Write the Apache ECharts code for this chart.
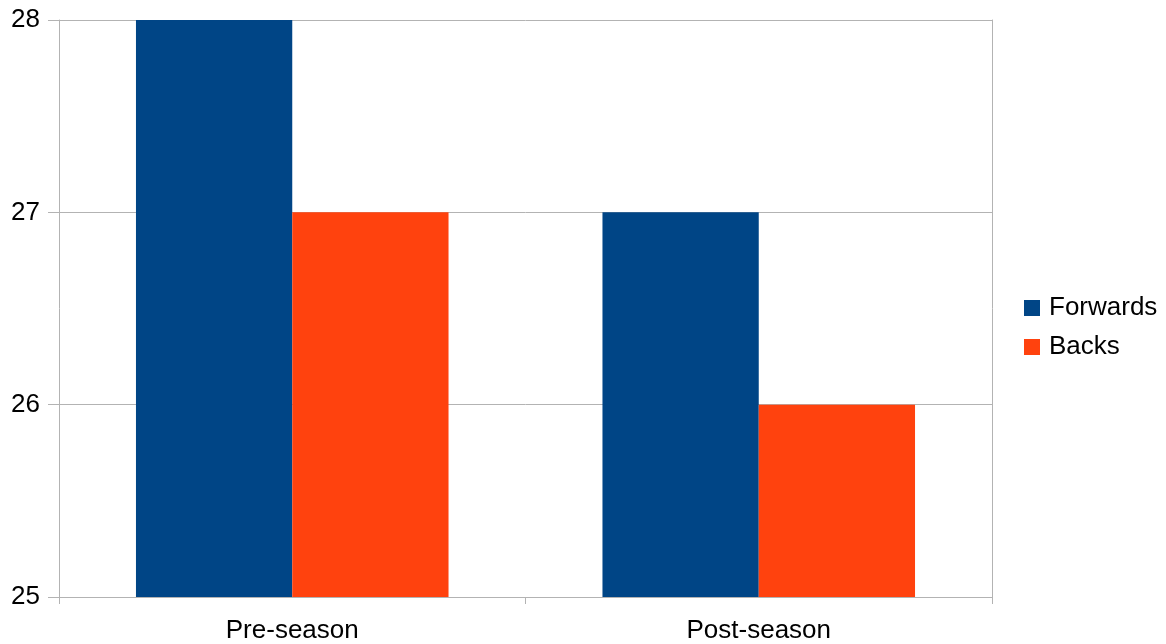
<!DOCTYPE html>
<html>
<head>
<meta charset="utf-8">
<script src="https://cdn.jsdelivr.net/npm/echarts@6/dist/echarts.min.js"></script>
<style>html,body{margin:0;padding:0;background:#fff;}#c{width:1166px;height:644px;}</style>
</head>
<body>
<div id="c"></div>
<script>
const categories = ['Pre-season', 'Post-season'];
const forwards = [28, 27];
const backs = [27, 26];
const seriesNames = ['Forwards', 'Backs'];

const chart = echarts.init(document.getElementById('c'), null, {renderer: 'canvas'});
const font = '"Liberation Sans", Arial, sans-serif';
chart.setOption({
  animation: false,
  backgroundColor: '#ffffff',
  grid: {left: 59, right: 174, top: 20, bottom: 46, containLabel: false},
  legend: {
    orient: 'vertical', left: 1019, top: 290,
    icon: 'rect', itemWidth: 16, itemHeight: 16, itemGap: 13,
    textStyle: {fontFamily: font, fontSize: 26, color: '#000', lineHeight: 26, padding: [0,0,0,4]},
    data: seriesNames
  },
  xAxis: {
    type: 'category', data: categories, boundaryGap: true,
    axisLine: {show: true, lineStyle: {color: '#b3b3b3', width: 1}},
    axisTick: {show: true, length: 7, lineStyle: {color: '#b3b3b3'}},
    axisLabel: {fontFamily: font, fontSize: 26, color: '#000', margin: 21}
  },
  yAxis: [{
    type: 'value', min: 25, max: 28, interval: 1,
    axisLine: {show: true, lineStyle: {color: '#b3b3b3', width: 1}},
    axisTick: {show: true, length: 11, lineStyle: {color: '#b3b3b3'}},
    axisLabel: {fontFamily: font, fontSize: 26, color: '#000', margin: 19},
    splitLine: {show: true, lineStyle: {color: '#b3b3b3', width: 1}}
  }, {
    type: 'value', min: 25, max: 28, interval: 1, position: 'right',
    axisLine: {show: true, lineStyle: {color: '#b3b3b3', width: 1}},
    axisTick: {show: false}, axisLabel: {show: false}, splitLine: {show: false}
  }],
  series: [
    {name: seriesNames[0], type: 'bar', data: forwards, barGap: '0%', barCategoryGap: '33%', itemStyle: {color: '#004586'}},
    {name: seriesNames[1], type: 'bar', data: backs, barGap: '0%', barCategoryGap: '33%', itemStyle: {color: '#ff420e'}}
  ]
});
</script>
</body>
</html>
